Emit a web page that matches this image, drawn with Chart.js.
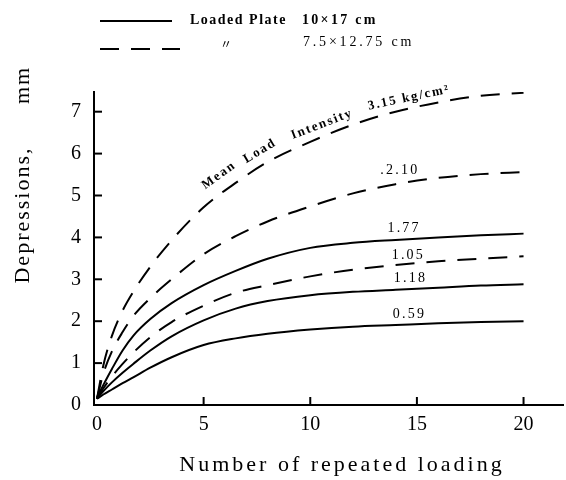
<!DOCTYPE html>
<html><head><meta charset="utf-8">
<script src="https://cdn.jsdelivr.net/npm/chart.js@4/dist/chart.umd.min.js"></script>
<style>html,body{margin:0;padding:0;background:#fff}</style>
</head><body>
<div style="width:566px;height:480px"><canvas id="c" width="566" height="480"></canvas></div>
<script>
// ---- data ----
const xValues   = [0, 0.3, 0.7, 1.2, 1.7, 2.5, 3.5, 5, 6.5, 8, 10, 12, 14, 16, 18, 20];
const dashed315 = [0.15, 0.95, 1.65, 2.25, 2.7, 3.3, 3.93, 4.72, 5.3, 5.8, 6.28, 6.69, 7.0, 7.22, 7.38, 7.45];
const dashed210 = [0.15, 0.75, 1.28, 1.74, 2.12, 2.55, 3.0, 3.6, 4.03, 4.38, 4.74, 5.05, 5.27, 5.42, 5.51, 5.56];
const solid177  = [0.18, 0.48, 0.86, 1.30, 1.65, 2.05, 2.43, 2.86, 3.2, 3.49, 3.75, 3.87, 3.94, 4.0, 4.05, 4.09];
const dashed105 = [0.15, 0.4, 0.68, 0.98, 1.25, 1.62, 1.98, 2.37, 2.68, 2.86, 3.07, 3.23, 3.34, 3.43, 3.49, 3.55];
const solid118  = [0.15, 0.33, 0.54, 0.77, 0.98, 1.3, 1.64, 2.02, 2.3, 2.48, 2.62, 2.7, 2.75, 2.8, 2.85, 2.88];
const solid059  = [0.15, 0.25, 0.37, 0.52, 0.66, 0.89, 1.14, 1.43, 1.59, 1.7, 1.8, 1.87, 1.91, 1.95, 1.98, 2.0];
const xTicks = [0, 5, 10, 15, 20];
const yTicks = [0, 1, 2, 3, 4, 5, 6, 7];
const curveLabels = ['.2.10', '1.77', '1.05', '1.18', '0.59'];
const intensityWords = ['Mean', 'Load', 'Intensity', '3.15 kg/cm\u00B2'];
const legendTexts = ['Loaded Plate', '10\u00D717 cm', '\u3003', '7.5\u00D712.75 cm'];
const xTitle = 'Number of repeated loading';
const yTitleParts = ['Depressions,', 'mm'];

// ---- annotation anchors (data units) ----
const curveLabelPos = [[14.2, 5.6], [14.4, 4.21], [14.6, 3.58], [14.7, 3.02], [14.65, 2.17]];
const wordPos = [[5.72, 5.48, -36], [7.64, 6.06, -31], [10.55, 6.7, -21], [14.63, 7.33, -12]];

const SERIF = '"Liberation Serif", "DejaVu Serif", serif';
const DASH = [19, 12];
const pts = ys => xValues.map((x, i) => ({x, y: ys[i]}));
const ds = (ys, dashed) => ({
  data: pts(ys), borderColor: '#000', borderWidth: 2, borderDash: dashed ? DASH : [],
  pointRadius: 0, fill: false, cubicInterpolationMode: 'monotone', borderCapStyle: 'butt'
});

const decor = {
  id: 'decor',
  afterDraw(chart) {
    const ctx = chart.ctx, xs = chart.scales.x, ys = chart.scales.y, a = chart.chartArea;
    ctx.save();
    ctx.strokeStyle = '#000'; ctx.fillStyle = '#000'; ctx.lineWidth = 2;
    // inner tick marks
    xTicks.forEach(v => { if (!v) return; const p = xs.getPixelForValue(v);
      ctx.beginPath(); ctx.moveTo(p, a.bottom); ctx.lineTo(p, a.bottom - 8); ctx.stroke(); });
    yTicks.forEach(v => { if (!v) return; const p = ys.getPixelForValue(v);
      ctx.beginPath(); ctx.moveTo(a.left, p); ctx.lineTo(a.left + 8, p); ctx.stroke(); });

    const txt = (t, x, y, font, spacing, rot, align) => {
      ctx.save();
      ctx.font = font; ctx.letterSpacing = spacing + 'px';
      ctx.textAlign = align || 'center'; ctx.textBaseline = 'middle';
      ctx.translate(x, y); ctx.rotate((rot || 0) * Math.PI / 180);
      ctx.fillText(t, 0, 0);
      ctx.restore();
    };
    // curve labels
    curveLabels.forEach((t, i) => txt(t, xs.getPixelForValue(curveLabelPos[i][0]),
      ys.getPixelForValue(curveLabelPos[i][1]), '14px ' + SERIF, 2.2));
    intensityWords.forEach((t, i) => txt(t, xs.getPixelForValue(wordPos[i][0]),
      ys.getPixelForValue(wordPos[i][1]), 'bold 13px ' + SERIF, 1.8, wordPos[i][2]));

    // axis titles
    txt(xTitle, 342, 465, '22px ' + SERIF, 3);
    txt(yTitleParts[0], 23, 215, '22px ' + SERIF, 2, -90);
    txt(yTitleParts[1], 23, 85, '22px ' + SERIF, 2, -90);

    // legend
    ctx.lineWidth = 2;
    ctx.beginPath(); ctx.setLineDash([]); ctx.moveTo(100, 21); ctx.lineTo(172, 21); ctx.stroke();
    ctx.beginPath(); ctx.setLineDash(DASH); ctx.moveTo(100, 49); ctx.lineTo(180, 49); ctx.stroke();
    ctx.setLineDash([]);
    txt(legendTexts[0], 190, 20, 'bold 14px ' + SERIF, 1.5, 0, 'left');
    txt(legendTexts[1], 302, 20, 'bold 14px ' + SERIF, 2.3, 0, 'left');
    txt(legendTexts[2], 226, 44, '12px "Noto Sans CJK JP"', 0, 0, 'center');
    txt(legendTexts[3], 303, 42, '14px ' + SERIF, 2.8, 0, 'left');
    ctx.restore();
  }
};

const axisCommon = {
  grid: {display: true, drawOnChartArea: false, drawTicks: false},
  border: {display: true, color: '#000', width: 2},
};

new Chart(document.getElementById('c'), {
  type: 'line',
  data: {datasets: [
    ds(dashed315, true), ds(dashed210, true), ds(solid177, false),
    ds(dashed105, true), ds(solid118, false), ds(solid059, false)
  ]},
  options: {
    responsive: false, animation: false, devicePixelRatio: 1,
    layout: {padding: {top: 92, right: 3, left: 0, bottom: 0}},
    plugins: {legend: {display: false}, tooltip: {enabled: false}},
    scales: {
      x: Object.assign({}, axisCommon, {
        type: 'linear', min: -0.14, max: 21.85,
        afterFit(s) { s.height = 75; },
        afterBuildTicks(s) { s.ticks = xTicks.map(v => ({value: v})); },
        ticks: {color: '#000', font: {family: SERIF, size: 20}, padding: 8, maxRotation: 0, autoSkip: false}
      }),
      y: Object.assign({}, axisCommon, {
        type: 'linear', min: 0, max: 7.47,
        afterFit(s) { s.width = 94; },
        afterBuildTicks(s) { s.ticks = yTicks.map(v => ({value: v})); },
        ticks: {color: '#000', font: {family: SERIF, size: 20}, padding: 13, autoSkip: false}
      })
    }
  },
  plugins: [decor]
});
</script>
</body></html>
